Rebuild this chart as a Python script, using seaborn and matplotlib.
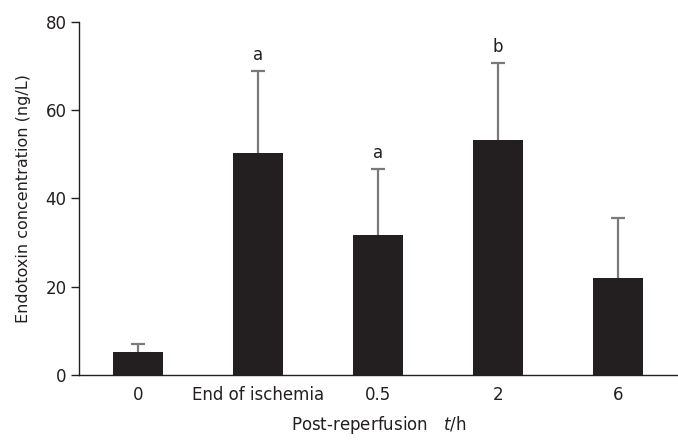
import matplotlib
matplotlib.use("Agg")
import matplotlib.pyplot as plt
import seaborn as sns
import pandas as pd

categories = ["0", "End of ischemia", "0.5", "2", "6"]
means = [5.3, 50.2, 31.7, 53.2, 21.9]
errors = [1.7, 18.7, 14.9, 17.5, 13.6]
sig_labels = ["", "a", "a", "b", ""]
y_ticks = [0, 20, 40, 60, 80]

sns.set_theme(style="ticks")
plt.rcParams["font.family"] = ["DejaVu Sans"]

df = pd.DataFrame({"group": categories, "value": means})

fig = plt.figure(figsize=(6.78, 4.43), dpi=100)
ax = fig.add_axes([79 / 678, 1 - 375 / 443, 1 - 79 / 678, (375 - 22) / 443])

bar_color = "#231f20"
err_color = "#7a7a7a"
sns.barplot(data=df, x="group", y="value", order=categories, color=bar_color,
            width=0.42, errorbar=None, ax=ax, saturation=1, edgecolor="none",
            zorder=2)

xs = list(range(len(categories)))
tops = [m + e for m, e in zip(means, errors)]
ax.errorbar(xs, means, yerr=[[0] * len(errors), errors], fmt="none",
            ecolor=err_color, elinewidth=1.6, capsize=0, zorder=1)
ax.plot(xs, tops, linestyle="none", marker="_", markersize=10,
        markeredgewidth=1.6, color=err_color, zorder=1)
for x, t, s in zip(xs, tops, sig_labels):
    if s:
        ax.annotate(s, (x, t), xytext=(0, 5), textcoords="offset points",
                    ha="center", va="bottom", fontsize=12, color="#231f20")

ax.set_xlim(-0.49, 4.5)
ax.set_ylim(0, 80)
ax.set_yticks(y_ticks)
ax.set_yticklabels([str(t) for t in y_ticks])
ax.tick_params(axis="y", length=6, width=1, color="#231f20", labelsize=12,
               labelcolor="#231f20", pad=3)
ax.tick_params(axis="x", length=0, labelsize=12, labelcolor="#231f20", pad=8)
for sp in ["top", "right"]:
    ax.spines[sp].set_visible(False)
for sp in ["left", "bottom"]:
    ax.spines[sp].set_color("#231f20")
    ax.spines[sp].set_linewidth(1.0)

ax.set_ylabel("Endotoxin concentration (ng/L)", fontsize=11.5, color="#231f20", labelpad=10)
ax.set_xlabel("Post-reperfusion   $\\mathit{t}$/h", fontsize=12, color="#231f20", labelpad=7)

fig.savefig("out.png", dpi=100)
